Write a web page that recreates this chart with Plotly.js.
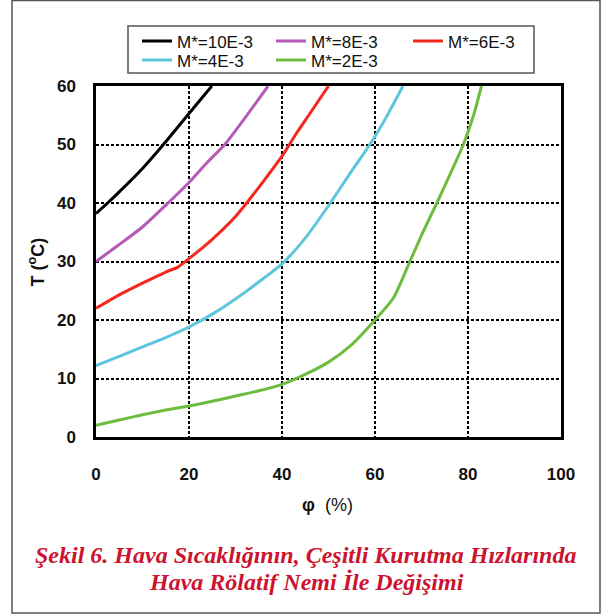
<!DOCTYPE html>
<html>
<head>
<meta charset="utf-8">
<script src="https://cdn.plot.ly/plotly-3.0.1.min.js"></script>
<style>html,body{margin:0;padding:0;background:#fff;}#chart{width:601px;height:616px;}</style>
</head>
<body>
<div id="chart"></div>
<script>
// Series names
var seriesNames = ["M*=10E-3", "M*=8E-3", "M*=6E-3", "M*=4E-3", "M*=2E-3"];

// φ (%) and T (°C) values
var phi10 = [0, 2.5, 5, 10, 14.5, 20, 24.9];
var T10   = [38.2, 40, 41.9, 45.9, 50, 55.3, 60];

var phi8 = [0, 5, 10, 15.5, 20, 24, 27.7, 32, 37];
var T8   = [30, 32.9, 35.9, 40, 43.5, 47, 50, 54.5, 60];

var phi6 = [0, 5, 10, 15, 17.5, 20, 25, 30, 32.4, 36, 40, 43, 46, 50];
var T6   = [22, 24.3, 26.3, 28.2, 29, 30.5, 33.8, 37.7, 40, 43.7, 48, 51.8, 55.3, 60];

var phi4 = [0, 5, 10, 15, 20, 25, 30, 35, 40, 45, 50.4, 55, 58.9, 62.3, 66];
var T4   = [12.2, 13.8, 15.4, 17, 18.8, 21, 23.6, 26.5, 29.6, 34, 40, 45.5, 50, 54.5, 60];

var phi2 = [0, 5, 10, 15, 20, 25, 30, 35, 40, 45, 50, 55, 60, 64, 67.5, 70.3, 73.3, 76.2, 79, 81.2, 82.9];
var T2   = [2, 2.9, 3.8, 4.6, 5.3, 6.1, 7, 7.9, 9, 10.7, 12.8, 15.8, 20, 23.8, 30, 35, 40, 45, 50, 55, 60];

var xTicks = [0, 20, 40, 60, 80, 100];
var yTicks = [0, 10, 20, 30, 40, 50, 60];

var colors = ["#000000", "#b65ab8", "#f4281c", "#5ec6dc", "#6cbd3e"];
var xs = [phi10, phi8, phi6, phi4, phi2];
var ys = [T10, T8, T6, T4, T2];
var legendIds = ["legend", "legend2", "legend3", "legend4", "legend5"];

var traces = xs.map(function (x, i) {
  return {
    x: x, y: ys[i], name: seriesNames[i], type: "scatter", mode: "lines",
    legend: legendIds[i],
    line: {color: colors[i], width: 3, shape: "spline", smoothing: 0.6},
    hoverinfo: "x+y+name"
  };
});

// pixel helpers for paper positions
var L = 96, R = 561, T = 86, B = 437;
function px(xp) { return (xp - L) / (R - L); }
function py(yp) { return (B - yp) / (B - T); }

var tickFont = {family: "Liberation Sans, Arial, sans-serif", size: 17, color: "#111", weight: "bold"};
var legFont = {family: "Liberation Sans, Arial, sans-serif", size: 17, color: "#111"};

// legend entry positions (px): column starts and row tops
var colX = [137, 271, 408];
var rowY = [23.5, 42.5];
function legendAt(col, row) {
  return {x: px(colX[col]), y: py(rowY[row]), xanchor: "left", yanchor: "top",
          bgcolor: "rgba(0,0,0,0)", borderwidth: 0, font: legFont};
}

var layout = {
  width: 601, height: 616,
  margin: {l: L, r: 601 - R, t: T, b: 616 - B},
  paper_bgcolor: "#ffffff", plot_bgcolor: "#ffffff",
  showlegend: true,
  legend: legendAt(0, 0),
  legend2: legendAt(1, 0),
  legend3: legendAt(2, 0),
  legend4: legendAt(0, 1),
  legend5: legendAt(1, 1),
  xaxis: {
    range: [0, 100], tickvals: xTicks, ticktext: xTicks.map(String),
    showgrid: true, gridcolor: "#000", gridwidth: 2, griddash: "3px,2px",
    zeroline: false, showline: true, linecolor: "#000", linewidth: 2.5, mirror: true,
    ticks: "", ticklabelstandoff: 20, tickfont: tickFont, fixedrange: true
  },
  yaxis: {
    range: [0, 60], tickvals: yTicks, ticktext: yTicks.map(String),
    showgrid: true, gridcolor: "#000", gridwidth: 2, griddash: "3px,2px",
    zeroline: false, showline: true, linecolor: "#000", linewidth: 2.5, mirror: true,
    ticks: "", ticklabelstandoff: 14, tickfont: tickFont, fixedrange: true
  },
  shapes: [
    {type: "rect", xref: "paper", yref: "paper",
     x0: px(12), x1: px(600), y0: py(613), y1: py(0.5),
     line: {color: "#555555", width: 1.5}, fillcolor: "rgba(0,0,0,0)", layer: "below"},
    {type: "rect", xref: "paper", yref: "paper",
     x0: px(128), x1: px(534), y0: py(73), y1: py(26),
     line: {color: "#555555", width: 1.5}, fillcolor: "rgba(0,0,0,0)", layer: "below"}
  ],
  annotations: [
    {text: "T (<sup>o</sup>C)", xref: "paper", yref: "paper", x: px(37), y: 0.5,
     textangle: -90, showarrow: false, xanchor: "center", yanchor: "middle",
     font: {family: "Liberation Sans, Arial, sans-serif", size: 18, color: "#111", weight: "bold"}},
    {text: "<b>φ</b>\u00a0 (%)", xref: "paper", yref: "paper", x: px(327), y: py(505),
     showarrow: false, xanchor: "center", yanchor: "middle",
     font: {family: "Liberation Sans, Arial, sans-serif", size: 18, color: "#111"}},
    {text: "<b><i>Şekil 6. Hava Sıcaklığının, Çeşitli Kurutma Hızlarında</i></b>", xref: "paper", yref: "paper",
     x: px(305), y: py(555), showarrow: false, xanchor: "center", yanchor: "middle",
     font: {family: "Liberation Serif, Times New Roman, serif", size: 24, color: "#cc1430"}},
    {text: "<b><i>Hava Rölatif Nemi İle Değişimi</i></b>", xref: "paper", yref: "paper",
     x: px(306), y: py(582), showarrow: false, xanchor: "center", yanchor: "middle",
     font: {family: "Liberation Serif, Times New Roman, serif", size: 24, color: "#cc1430"}}
  ]
};

Plotly.newPlot("chart", traces, layout, {displayModeBar: false, responsive: false});
</script>
</body>
</html>
